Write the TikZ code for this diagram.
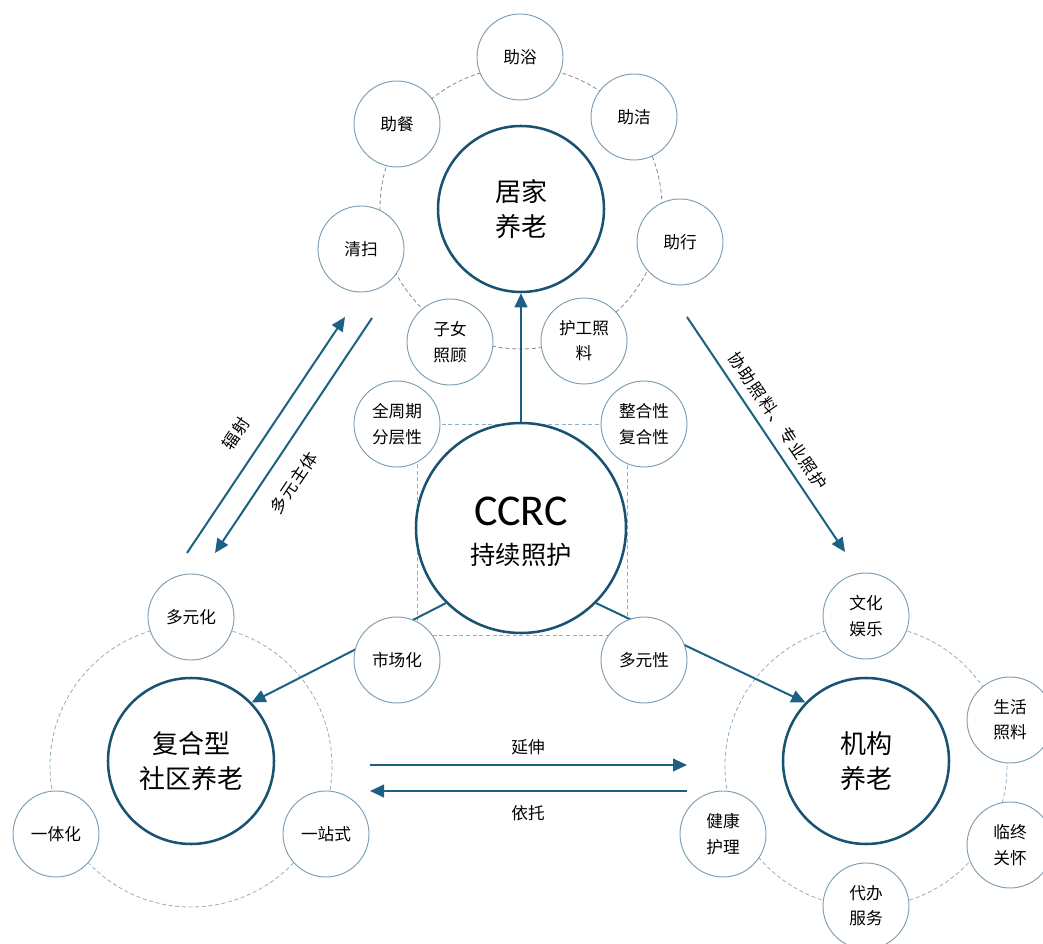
\documentclass[tikz,border=0pt]{standalone}
\usepackage{fontspec}
\setmainfont{Noto Sans CJK SC}
\newfontfamily\latinfont{Carlito}
\newfontfamily\spacedcjk[LetterSpace=8]{Noto Sans CJK SC}
\usetikzlibrary{arrows.meta}
\definecolor{mainblue}{HTML}{1A5272}
\definecolor{arrowblue}{HTML}{1C6183}
\definecolor{smallblue}{HTML}{7C9DB3}
\definecolor{ringblue}{HTML}{8FAFC4}
\definecolor{ringgray}{HTML}{8A8A8A}
\tikzset{
  bigcirc/.style={circle,draw=mainblue,line width=1.9pt,fill=white,inner sep=0pt,minimum size=124.5pt,align=center,font=\fontsize{19.5pt}{26pt}\selectfont},
  smallcirc/.style={circle,draw=smallblue,line width=0.7pt,fill=white,inner sep=0pt,minimum size=64.5pt,align=center,font=\fontsize{12.5pt}{19pt}\selectfont},
  ringline/.style={dashed,dash pattern=on 3pt off 2pt,line width=0.6pt},
  conn/.style={draw=arrowblue,line width=1.5pt},
  arr/.style={conn,-{Triangle[length=10.5pt,width=9.5pt]}},
  lbl/.style={font=\fontsize{12.5pt}{15pt}\selectfont,inner sep=0pt},
  rlbl/.style={font=\spacedcjk\fontsize{12.5pt}{15pt}\selectfont,inner sep=0pt}
}
\begin{document}
\begin{tikzpicture}[x=0.75pt,y=-0.75pt]
\useasboundingbox (0,0) rectangle (1043,944);
% rings and frame
\draw[ringline,draw=ringgray] (521,208) circle[radius=141];
\draw[ringline,draw=ringblue] (191,766) circle[radius=141];
\draw[ringline,draw=ringblue] (866,766) circle[radius=141];
\draw[ringline,draw=ringblue] (417,424) rectangle (627,635);
% main nodes
\node[bigcirc] (home) at (521,209) {居家\\养老};
\node[bigcirc] (comm) at (191,761) {复合型\\社区养老};
\node[bigcirc] (inst) at (866,761) {机构\\养老};
\node[bigcirc,minimum size=157.5pt] (ccrc) at (521,528) {};
\node[inner sep=0pt,font=\latinfont\fontsize{33pt}{33pt}\selectfont] (ccrct) at (521,511) {CCRC};
\node[inner sep=0pt,font=\fontsize{19pt}{19pt}\selectfont] (ccrcs) at (521,555) {持续照护};
% arrows between main nodes
\draw[arr] (ccrc.north) -- (home.south);
\draw[arr] (ccrc.225) -- (comm.44);
\draw[arr] (ccrc.315) -- (inst.136);
% free arrows
\coordinate (a1s) at (187,553); \coordinate (a1e) at (345,317);
\coordinate (a2s) at (372,318); \coordinate (a2e) at (215,553);
\coordinate (a3s) at (687,317); \coordinate (a3e) at (845,552);
\coordinate (h1s) at (370,765); \coordinate (h1e) at (687,765);
\coordinate (h2s) at (687,791); \coordinate (h2e) at (370,791);
\draw[arr] (a1s) -- (a1e);
\draw[arr] (a2s) -- (a2e);
\draw[arr] (a3s) -- (a3e);
\draw[arr] (h1s) -- (h1e);
\draw[arr] (h2s) -- (h2e);
\node[rlbl,rotate=56] (l1) at (236,434) {辐射};
\node[rlbl,rotate=56] (l2) at (294,483) {多元主体};
\node[rlbl,rotate=-56] (l3) at (778,421) {协助照料、专业照护};
\node[lbl] (l4) at (528,747) {延伸};
\node[lbl] (l5) at (528,813) {依托};
% small nodes: home
\node[smallcirc] (s1) at (520,57) {助浴};
\node[smallcirc] (s2) at (397,124) {助餐};
\node[smallcirc] (s3) at (634,117) {助洁};
\node[smallcirc] (s4) at (361,249) {清扫};
\node[smallcirc] (s5) at (680,242) {助行};
\node[smallcirc] (s6) at (450,342) {子女\\照顾};
\node[smallcirc] (s7) at (584,341) {护工照\\料};
% small nodes: ccrc
\node[smallcirc] (c1) at (397,424) {全周期\\分层性};
\node[smallcirc] (c2) at (644,424) {整合性\\复合性};
\node[smallcirc] (c3) at (397,660) {市场化};
\node[smallcirc] (c4) at (644,660) {多元性};
% small nodes: community
\node[smallcirc] (m1) at (191,617) {多元化};
\node[smallcirc] (m2) at (56,834) {一体化};
\node[smallcirc] (m3) at (326,834) {一站式};
% small nodes: institution
\node[smallcirc] (i1) at (866,616) {文化\\娱乐};
\node[smallcirc] (i2) at (1010,720) {生活\\照料};
\node[smallcirc] (i3) at (1010,845) {临终\\关怀};
\node[smallcirc] (i4) at (866,906) {代办\\服务};
\node[smallcirc] (i5) at (723,834) {健康\\护理};
\end{tikzpicture}
\end{document}
